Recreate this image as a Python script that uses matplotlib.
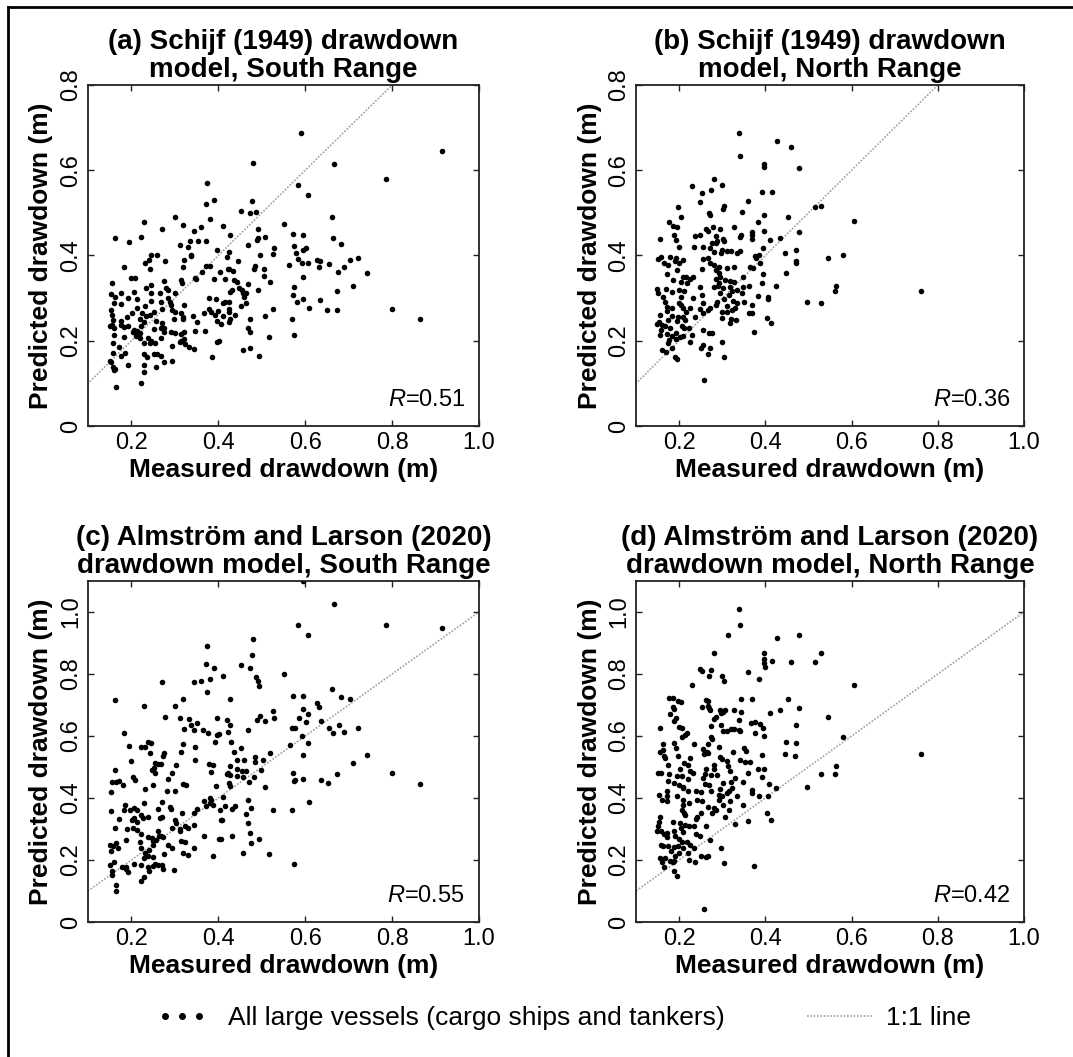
import numpy as np
import matplotlib
matplotlib.use('Agg')
import matplotlib.pyplot as plt
from matplotlib.lines import Line2D
from matplotlib.legend_handler import HandlerLine2D

plt.rcParams['font.family'] = ['Liberation Sans', 'DejaVu Sans']
plt.rcParams['mathtext.fontset'] = 'custom'
plt.rcParams['mathtext.it'] = 'Liberation Sans:italic'
plt.rcParams['mathtext.rm'] = 'Liberation Sans'

# (measured, predicted) pairs
schijf_south = [
    (0.59, 0.687), (0.914, 0.646), (0.48, 0.618), (0.667, 0.615), (0.785, 0.58), (0.584, 0.565),
    (0.373, 0.571), (0.607, 0.542), (0.39, 0.53), (0.371, 0.521), (0.477, 0.529), (0.452, 0.505),
    (0.472, 0.499), (0.486, 0.501), (0.301, 0.491), (0.662, 0.491), (0.38, 0.486), (0.229, 0.478),
    (0.551, 0.475), (0.319, 0.471), (0.36, 0.468), (0.411, 0.47), (0.271, 0.461), (0.345, 0.457),
    (0.492, 0.461), (0.426, 0.448), (0.573, 0.45), (0.596, 0.448), (0.161, 0.442), (0.223, 0.443),
    (0.492, 0.44), (0.507, 0.444), (0.665, 0.44), (0.195, 0.432), (0.334, 0.434), (0.371, 0.435),
    (0.354, 0.435), (0.49, 0.436), (0.683, 0.427), (0.312, 0.425), (0.331, 0.421), (0.468, 0.425),
    (0.574, 0.423), (0.529, 0.417), (0.398, 0.413), (0.425, 0.409), (0.596, 0.413), (0.579, 0.407),
    (0.584, 0.391), (0.602, 0.417), (0.526, 0.403), (0.244, 0.401), (0.258, 0.4), (0.338, 0.401),
    (0.497, 0.401), (0.24, 0.389), (0.336, 0.399), (0.231, 0.382), (0.277, 0.386), (0.322, 0.389),
    (0.42, 0.397), (0.445, 0.387), (0.592, 0.383), (0.606, 0.382), (0.627, 0.389), (0.634, 0.387),
    (0.704, 0.389), (0.722, 0.394), (0.182, 0.374), (0.371, 0.376), (0.381, 0.375), (0.319, 0.374),
    (0.242, 0.369), (0.423, 0.368), (0.485, 0.376), (0.483, 0.368), (0.505, 0.368), (0.563, 0.378),
    (0.631, 0.374), (0.654, 0.379), (0.69, 0.374), (0.676, 0.362), (0.742, 0.358), (0.363, 0.362),
    (0.403, 0.362), (0.425, 0.368), (0.433, 0.364), (0.389, 0.346), (0.347, 0.348), (0.348, 0.344),
    (0.2, 0.348), (0.208, 0.348), (0.274, 0.34), (0.315, 0.342), (0.316, 0.336), (0.416, 0.344),
    (0.436, 0.342), (0.443, 0.339), (0.504, 0.352), (0.518, 0.339), (0.596, 0.35), (0.155, 0.336),
    (0.245, 0.331), (0.468, 0.332), (0.574, 0.327), (0.709, 0.328), (0.234, 0.323), (0.279, 0.323),
    (0.285, 0.319), (0.431, 0.319), (0.447, 0.323), (0.454, 0.319), (0.492, 0.319), (0.673, 0.317),
    (0.175, 0.311), (0.153, 0.31), (0.207, 0.314), (0.244, 0.311), (0.265, 0.311), (0.301, 0.311),
    (0.427, 0.314), (0.457, 0.311), (0.463, 0.311), (0.573, 0.307), (0.192, 0.301), (0.163, 0.302),
    (0.212, 0.297), (0.283, 0.301), (0.379, 0.3), (0.394, 0.297), (0.458, 0.303), (0.246, 0.293),
    (0.267, 0.292), (0.288, 0.292), (0.415, 0.292), (0.425, 0.292), (0.596, 0.297), (0.58, 0.292),
    (0.634, 0.295), (0.29, 0.285), (0.322, 0.285), (0.41, 0.288), (0.463, 0.288), (0.16, 0.289),
    (0.176, 0.286), (0.232, 0.282), (0.452, 0.282), (0.212, 0.276), (0.271, 0.274), (0.379, 0.274),
    (0.424, 0.274), (0.609, 0.276), (0.8, 0.274), (0.674, 0.272), (0.526, 0.274), (0.154, 0.272),
    (0.253, 0.268), (0.3, 0.268), (0.294, 0.271), (0.201, 0.266), (0.224, 0.266), (0.384, 0.268),
    (0.4, 0.27), (0.425, 0.268), (0.651, 0.271), (0.367, 0.264), (0.315, 0.264), (0.233, 0.258),
    (0.319, 0.256), (0.342, 0.258), (0.392, 0.26), (0.411, 0.258), (0.439, 0.26), (0.156, 0.26),
    (0.189, 0.256), (0.243, 0.26), (0.507, 0.259), (0.298, 0.252), (0.319, 0.25), (0.351, 0.245),
    (0.398, 0.247), (0.424, 0.245), (0.427, 0.252), (0.474, 0.252), (0.57, 0.25), (0.865, 0.252),
    (0.176, 0.247), (0.22, 0.252), (0.257, 0.247), (0.271, 0.241), (0.407, 0.239), (0.175, 0.237),
    (0.15, 0.235), (0.193, 0.235), (0.184, 0.233), (0.221, 0.235), (0.228, 0.245), (0.16, 0.229),
    (0.207, 0.225), (0.204, 0.221), (0.213, 0.223), (0.219, 0.219), (0.253, 0.227), (0.268, 0.229),
    (0.276, 0.231), (0.276, 0.221), (0.291, 0.221), (0.3, 0.219), (0.315, 0.216), (0.322, 0.221),
    (0.347, 0.224), (0.37, 0.223), (0.468, 0.229), (0.474, 0.22), (0.575, 0.213), (0.517, 0.208),
    (0.16, 0.213), (0.184, 0.208), (0.211, 0.21), (0.22, 0.206), (0.237, 0.206), (0.246, 0.2),
    (0.267, 0.206), (0.401, 0.2), (0.397, 0.196), (0.315, 0.2), (0.311, 0.196), (0.322, 0.203),
    (0.323, 0.192), (0.157, 0.194), (0.171, 0.186), (0.228, 0.194), (0.243, 0.194), (0.255, 0.194),
    (0.293, 0.188), (0.333, 0.186), (0.345, 0.18), (0.473, 0.184), (0.456, 0.178), (0.157, 0.172),
    (0.186, 0.172), (0.23, 0.17), (0.253, 0.169), (0.259, 0.169), (0.175, 0.164), (0.236, 0.161),
    (0.269, 0.165), (0.386, 0.163), (0.494, 0.164), (0.15, 0.153), (0.293, 0.153), (0.192, 0.143),
    (0.154, 0.149), (0.256, 0.139), (0.274, 0.149), (0.158, 0.138), (0.161, 0.133), (0.228, 0.127),
    (0.229, 0.143), (0.165, 0.092), (0.221, 0.1), (0.159, 0.131), (0.155, 0.237), (0.158, 0.249),
]

schijf_north = [
    (0.34, 0.687), (0.428, 0.669), (0.46, 0.655), (0.342, 0.634), (0.396, 0.615), (0.396, 0.608),
    (0.478, 0.605), (0.28, 0.579), (0.231, 0.563), (0.299, 0.565), (0.252, 0.546), (0.274, 0.554),
    (0.393, 0.549), (0.416, 0.549), (0.36, 0.529), (0.248, 0.526), (0.304, 0.515), (0.302, 0.508),
    (0.516, 0.513), (0.53, 0.516), (0.198, 0.513), (0.345, 0.502), (0.271, 0.495), (0.269, 0.499),
    (0.398, 0.494), (0.205, 0.49), (0.452, 0.491), (0.606, 0.481), (0.177, 0.479), (0.384, 0.479),
    (0.185, 0.469), (0.195, 0.468), (0.279, 0.468), (0.296, 0.463), (0.328, 0.468), (0.262, 0.462),
    (0.267, 0.457), (0.368, 0.456), (0.396, 0.457), (0.478, 0.454), (0.189, 0.448), (0.249, 0.447),
    (0.238, 0.446), (0.285, 0.446), (0.343, 0.448), (0.342, 0.444), (0.37, 0.447), (0.434, 0.44),
    (0.156, 0.438), (0.193, 0.436), (0.41, 0.436), (0.305, 0.435), (0.288, 0.435), (0.302, 0.438),
    (0.369, 0.438), (0.286, 0.429), (0.276, 0.429), (0.234, 0.421), (0.2, 0.42), (0.255, 0.419),
    (0.271, 0.418), (0.299, 0.413), (0.311, 0.411), (0.321, 0.411), (0.334, 0.407), (0.342, 0.411),
    (0.394, 0.417), (0.471, 0.413), (0.446, 0.405), (0.281, 0.409), (0.298, 0.405), (0.152, 0.391),
    (0.159, 0.397), (0.179, 0.397), (0.193, 0.393), (0.19, 0.388), (0.21, 0.389), (0.377, 0.399),
    (0.385, 0.401), (0.546, 0.395), (0.58, 0.4), (0.165, 0.382), (0.174, 0.378), (0.199, 0.382),
    (0.256, 0.391), (0.268, 0.395), (0.272, 0.382), (0.282, 0.378), (0.292, 0.374), (0.312, 0.37),
    (0.328, 0.374), (0.365, 0.374), (0.371, 0.37), (0.378, 0.393), (0.387, 0.382), (0.471, 0.382),
    (0.472, 0.386), (0.196, 0.366), (0.253, 0.368), (0.285, 0.366), (0.293, 0.358), (0.171, 0.357),
    (0.394, 0.357), (0.449, 0.36), (0.208, 0.35), (0.216, 0.35), (0.225, 0.344), (0.233, 0.35),
    (0.307, 0.343), (0.317, 0.341), (0.349, 0.349), (0.296, 0.35), (0.286, 0.346), (0.186, 0.342),
    (0.204, 0.339), (0.218, 0.335), (0.292, 0.335), (0.327, 0.339), (0.393, 0.336), (0.28, 0.327),
    (0.29, 0.328), (0.302, 0.323), (0.317, 0.325), (0.349, 0.325), (0.361, 0.328), (0.424, 0.328),
    (0.563, 0.328), (0.762, 0.317), (0.149, 0.322), (0.169, 0.321), (0.2, 0.319), (0.211, 0.317),
    (0.248, 0.327), (0.322, 0.317), (0.335, 0.319), (0.345, 0.311), (0.562, 0.317), (0.15, 0.311),
    (0.184, 0.315), (0.254, 0.307), (0.294, 0.313), (0.315, 0.307), (0.384, 0.305), (0.406, 0.303),
    (0.406, 0.298), (0.163, 0.302), (0.205, 0.303), (0.232, 0.301), (0.305, 0.298), (0.496, 0.292),
    (0.529, 0.288), (0.167, 0.292), (0.199, 0.288), (0.205, 0.284), (0.256, 0.288), (0.286, 0.284),
    (0.288, 0.292), (0.311, 0.282), (0.326, 0.293), (0.334, 0.288), (0.35, 0.291), (0.369, 0.285),
    (0.171, 0.28), (0.184, 0.276), (0.21, 0.276), (0.226, 0.278), (0.249, 0.274), (0.266, 0.272),
    (0.272, 0.276), (0.322, 0.272), (0.329, 0.276), (0.173, 0.27), (0.216, 0.268), (0.255, 0.266),
    (0.299, 0.268), (0.31, 0.268), (0.361, 0.264), (0.369, 0.264), (0.156, 0.26), (0.184, 0.258),
    (0.197, 0.256), (0.21, 0.256), (0.238, 0.255), (0.299, 0.253), (0.321, 0.25), (0.331, 0.249),
    (0.404, 0.253), (0.153, 0.245), (0.175, 0.249), (0.195, 0.247), (0.214, 0.249), (0.319, 0.242),
    (0.412, 0.242), (0.148, 0.239), (0.16, 0.237), (0.167, 0.235), (0.207, 0.235), (0.211, 0.229),
    (0.222, 0.231), (0.179, 0.229), (0.158, 0.225), (0.192, 0.219), (0.255, 0.225), (0.27, 0.219),
    (0.276, 0.219), (0.374, 0.22), (0.172, 0.216), (0.184, 0.21), (0.201, 0.208), (0.21, 0.21),
    (0.229, 0.213), (0.156, 0.213), (0.176, 0.202), (0.192, 0.203), (0.3, 0.198), (0.225, 0.196),
    (0.175, 0.194), (0.255, 0.19), (0.251, 0.182), (0.184, 0.182), (0.16, 0.178), (0.17, 0.174),
    (0.266, 0.169), (0.272, 0.182), (0.305, 0.163), (0.19, 0.163), (0.194, 0.158), (0.258, 0.109),
]

almstrom_south = [
    (0.594, 1.099), (0.667, 1.025), (0.584, 0.959), (0.785, 0.958), (0.914, 0.947), (0.607, 0.927),
    (0.48, 0.912), (0.373, 0.89), (0.477, 0.861), (0.371, 0.831), (0.452, 0.829), (0.39, 0.82),
    (0.472, 0.82), (0.551, 0.801), (0.411, 0.794), (0.486, 0.79), (0.38, 0.783), (0.492, 0.779),
    (0.271, 0.773), (0.345, 0.774), (0.36, 0.778), (0.494, 0.762), (0.374, 0.743), (0.662, 0.751),
    (0.573, 0.73), (0.596, 0.73), (0.426, 0.719), (0.319, 0.719), (0.704, 0.719), (0.161, 0.715),
    (0.683, 0.725), (0.626, 0.708), (0.229, 0.697), (0.301, 0.698), (0.632, 0.693), (0.596, 0.686),
    (0.526, 0.682), (0.607, 0.67), (0.497, 0.665), (0.278, 0.661), (0.312, 0.659), (0.398, 0.659),
    (0.529, 0.657), (0.585, 0.657), (0.333, 0.654), (0.507, 0.65), (0.42, 0.652), (0.489, 0.652),
    (0.637, 0.65), (0.602, 0.646), (0.352, 0.643), (0.336, 0.636), (0.426, 0.634), (0.678, 0.634),
    (0.365, 0.62), (0.468, 0.62), (0.322, 0.622), (0.345, 0.618), (0.722, 0.625), (0.577, 0.627),
    (0.654, 0.625), (0.57, 0.627), (0.664, 0.609), (0.69, 0.614), (0.182, 0.609), (0.376, 0.611),
    (0.397, 0.604), (0.402, 0.607), (0.423, 0.612), (0.593, 0.601), (0.392, 0.582), (0.429, 0.582),
    (0.606, 0.579), (0.195, 0.568), (0.319, 0.574), (0.239, 0.582), (0.246, 0.577), (0.223, 0.564),
    (0.232, 0.566), (0.347, 0.563), (0.453, 0.561), (0.566, 0.571), (0.242, 0.545), (0.315, 0.547),
    (0.436, 0.548), (0.518, 0.545), (0.274, 0.545), (0.742, 0.539), (0.596, 0.539), (0.273, 0.534),
    (0.484, 0.532), (0.347, 0.523), (0.2, 0.518), (0.458, 0.523), (0.443, 0.521), (0.503, 0.523),
    (0.485, 0.516), (0.255, 0.512), (0.26, 0.51), (0.269, 0.51), (0.709, 0.512), (0.378, 0.51),
    (0.388, 0.507), (0.303, 0.507), (0.428, 0.502), (0.251, 0.496), (0.247, 0.491), (0.161, 0.491),
    (0.444, 0.493), (0.463, 0.487), (0.499, 0.489), (0.454, 0.486), (0.423, 0.482), (0.8, 0.482),
    (0.384, 0.483), (0.293, 0.48), (0.255, 0.48), (0.573, 0.48), (0.427, 0.475), (0.419, 0.478),
    (0.673, 0.477), (0.443, 0.472), (0.457, 0.469), (0.483, 0.469), (0.204, 0.467), (0.208, 0.459),
    (0.285, 0.461), (0.574, 0.455), (0.596, 0.462), (0.47, 0.453), (0.577, 0.459), (0.155, 0.453),
    (0.165, 0.451), (0.171, 0.455), (0.636, 0.457), (0.424, 0.448), (0.652, 0.448), (0.319, 0.445),
    (0.325, 0.443), (0.18, 0.443), (0.249, 0.443), (0.427, 0.439), (0.865, 0.446), (0.395, 0.439),
    (0.232, 0.428), (0.507, 0.434), (0.152, 0.418), (0.281, 0.421), (0.301, 0.421), (0.41, 0.402),
    (0.38, 0.4), (0.384, 0.394), (0.367, 0.389), (0.609, 0.388), (0.468, 0.394), (0.271, 0.387),
    (0.38, 0.383), (0.229, 0.383), (0.186, 0.378), (0.439, 0.375), (0.415, 0.375), (0.371, 0.373),
    (0.387, 0.378), (0.288, 0.37), (0.206, 0.367), (0.292, 0.364), (0.182, 0.36), (0.212, 0.36),
    (0.197, 0.36), (0.261, 0.364), (0.351, 0.364), (0.431, 0.364), (0.475, 0.367), (0.526, 0.36),
    (0.57, 0.362), (0.152, 0.357), (0.403, 0.362), (0.344, 0.353), (0.316, 0.351), (0.463, 0.349),
    (0.221, 0.346), (0.27, 0.34), (0.238, 0.34), (0.207, 0.335), (0.172, 0.333), (0.226, 0.335),
    (0.265, 0.335), (0.408, 0.328), (0.301, 0.328), (0.201, 0.33), (0.213, 0.324), (0.405, 0.328),
    (0.302, 0.319), (0.468, 0.319), (0.345, 0.314), (0.323, 0.31), (0.161, 0.303), (0.19, 0.301),
    (0.204, 0.303), (0.213, 0.297), (0.293, 0.303), (0.311, 0.3), (0.33, 0.303), (0.311, 0.292),
    (0.262, 0.295), (0.263, 0.278), (0.221, 0.284), (0.474, 0.287), (0.269, 0.276), (0.237, 0.273),
    (0.247, 0.272), (0.272, 0.273), (0.366, 0.276), (0.431, 0.276), (0.401, 0.269), (0.405, 0.269),
    (0.257, 0.265), (0.494, 0.267), (0.188, 0.265), (0.15, 0.249), (0.165, 0.255), (0.25, 0.26),
    (0.219, 0.257), (0.314, 0.26), (0.323, 0.257), (0.475, 0.255), (0.284, 0.249), (0.157, 0.244),
    (0.169, 0.238), (0.223, 0.238), (0.24, 0.233), (0.293, 0.238), (0.345, 0.238), (0.249, 0.249),
    (0.153, 0.228), (0.231, 0.222), (0.276, 0.22), (0.319, 0.224), (0.456, 0.222), (0.516, 0.219),
    (0.238, 0.212), (0.33, 0.215), (0.387, 0.214), (0.229, 0.206), (0.249, 0.209), (0.16, 0.195),
    (0.207, 0.187), (0.222, 0.185), (0.254, 0.187), (0.261, 0.185), (0.27, 0.185), (0.574, 0.187),
    (0.15, 0.185), (0.187, 0.179), (0.179, 0.179), (0.238, 0.179), (0.25, 0.182), (0.188, 0.171),
    (0.272, 0.171), (0.297, 0.169), (0.156, 0.163), (0.191, 0.16), (0.24, 0.165), (0.156, 0.153),
    (0.229, 0.145), (0.223, 0.131), (0.165, 0.12), (0.165, 0.099),
]

almstrom_north = [
    (0.34, 1.009), (0.342, 0.959), (0.313, 0.927), (0.428, 0.915), (0.478, 0.927), (0.28, 0.867),
    (0.396, 0.869), (0.529, 0.868), (0.396, 0.847), (0.416, 0.843), (0.46, 0.839), (0.516, 0.839),
    (0.398, 0.837), (0.4, 0.822), (0.248, 0.815), (0.274, 0.814), (0.252, 0.81), (0.36, 0.807),
    (0.299, 0.795), (0.27, 0.792), (0.385, 0.785), (0.304, 0.779), (0.606, 0.765), (0.231, 0.764),
    (0.177, 0.722), (0.185, 0.722), (0.343, 0.718), (0.37, 0.718), (0.452, 0.718), (0.262, 0.716),
    (0.268, 0.713), (0.198, 0.713), (0.205, 0.71), (0.267, 0.698), (0.253, 0.692), (0.478, 0.69),
    (0.185, 0.693), (0.189, 0.687), (0.269, 0.69), (0.271, 0.683), (0.434, 0.685), (0.295, 0.683),
    (0.306, 0.685), (0.302, 0.678), (0.327, 0.683), (0.344, 0.678), (0.298, 0.674), (0.41, 0.674),
    (0.179, 0.672), (0.193, 0.657), (0.285, 0.661), (0.546, 0.661), (0.28, 0.654), (0.339, 0.652),
    (0.188, 0.65), (0.366, 0.641), (0.377, 0.644), (0.275, 0.633), (0.298, 0.636), (0.387, 0.639),
    (0.471, 0.636), (0.156, 0.627), (0.199, 0.628), (0.207, 0.625), (0.394, 0.625), (0.301, 0.617),
    (0.31, 0.615), (0.32, 0.622), (0.338, 0.62), (0.342, 0.615), (0.328, 0.622), (0.377, 0.609),
    (0.396, 0.601), (0.218, 0.609), (0.207, 0.598), (0.214, 0.604), (0.274, 0.598), (0.277, 0.591),
    (0.58, 0.598), (0.189, 0.579), (0.235, 0.575), (0.449, 0.582), (0.472, 0.579), (0.163, 0.575),
    (0.267, 0.574), (0.156, 0.55), (0.162, 0.555), (0.193, 0.561), (0.255, 0.559), (0.265, 0.55),
    (0.292, 0.563), (0.351, 0.561), (0.354, 0.552), (0.325, 0.547), (0.258, 0.542), (0.268, 0.545),
    (0.393, 0.539), (0.446, 0.541), (0.469, 0.536), (0.762, 0.543), (0.166, 0.534), (0.168, 0.528),
    (0.198, 0.534), (0.226, 0.528), (0.295, 0.532), (0.3, 0.525), (0.311, 0.52), (0.341, 0.521),
    (0.353, 0.516), (0.364, 0.517), (0.211, 0.512), (0.22, 0.507), (0.28, 0.507), (0.174, 0.507),
    (0.313, 0.502), (0.563, 0.502), (0.282, 0.495), (0.201, 0.494), (0.262, 0.493), (0.319, 0.488),
    (0.384, 0.493), (0.396, 0.493), (0.152, 0.482), (0.159, 0.48), (0.177, 0.478), (0.225, 0.486),
    (0.232, 0.48), (0.259, 0.477), (0.36, 0.482), (0.529, 0.478), (0.562, 0.477), (0.196, 0.472),
    (0.207, 0.472), (0.273, 0.473), (0.289, 0.475), (0.392, 0.467), (0.255, 0.464), (0.329, 0.464),
    (0.221, 0.461), (0.174, 0.456), (0.187, 0.45), (0.321, 0.453), (0.348, 0.451), (0.408, 0.446),
    (0.269, 0.442), (0.301, 0.448), (0.2, 0.442), (0.261, 0.446), (0.21, 0.437), (0.496, 0.436),
    (0.424, 0.432), (0.323, 0.432), (0.21, 0.432), (0.296, 0.429), (0.221, 0.424), (0.315, 0.424),
    (0.37, 0.426), (0.24, 0.421), (0.251, 0.419), (0.273, 0.421), (0.172, 0.424), (0.31, 0.416),
    (0.369, 0.416), (0.153, 0.41), (0.172, 0.407), (0.195, 0.407), (0.292, 0.41), (0.3, 0.407),
    (0.334, 0.405), (0.385, 0.407), (0.406, 0.408), (0.161, 0.394), (0.173, 0.389), (0.21, 0.392),
    (0.241, 0.392), (0.252, 0.389), (0.292, 0.392), (0.319, 0.389), (0.21, 0.378), (0.223, 0.383),
    (0.301, 0.378), (0.349, 0.378), (0.267, 0.371), (0.281, 0.367), (0.207, 0.36), (0.212, 0.353),
    (0.285, 0.36), (0.315, 0.362), (0.277, 0.353), (0.214, 0.346), (0.251, 0.351), (0.405, 0.351),
    (0.156, 0.338), (0.242, 0.338), (0.306, 0.338), (0.24, 0.332), (0.412, 0.328), (0.36, 0.327),
    (0.154, 0.321), (0.186, 0.324), (0.202, 0.319), (0.213, 0.314), (0.224, 0.31), (0.234, 0.31),
    (0.263, 0.31), (0.329, 0.317), (0.152, 0.31), (0.205, 0.303), (0.149, 0.292), (0.158, 0.295),
    (0.172, 0.287), (0.188, 0.292), (0.21, 0.289), (0.24, 0.284), (0.248, 0.276), (0.165, 0.284),
    (0.173, 0.274), (0.19, 0.276), (0.2, 0.267), (0.272, 0.265), (0.207, 0.257), (0.219, 0.257),
    (0.226, 0.249), (0.159, 0.249), (0.162, 0.244), (0.174, 0.246), (0.187, 0.241), (0.198, 0.244),
    (0.21, 0.238), (0.234, 0.238), (0.298, 0.238), (0.181, 0.228), (0.2, 0.224), (0.221, 0.224),
    (0.19, 0.214), (0.251, 0.212), (0.262, 0.21), (0.267, 0.212), (0.168, 0.206), (0.156, 0.206),
    (0.224, 0.201), (0.236, 0.195), (0.178, 0.198), (0.161, 0.192), (0.185, 0.192), (0.189, 0.196),
    (0.305, 0.19), (0.373, 0.182), (0.165, 0.179), (0.189, 0.165), (0.194, 0.149), (0.257, 0.043),
]

titles = ['(a) Schijf (1949) drawdown\nmodel, South Range',
          '(b) Schijf (1949) drawdown\nmodel, North Range',
          '(c) Almstr\u00f6m and Larson (2020)\ndrawdown model, South Range',
          '(d) Almstr\u00f6m and Larson (2020)\ndrawdown model, North Range']
r_values = ['0.51', '0.36', '0.55', '0.42']
datasets = [schijf_south, schijf_north, almstrom_south, almstrom_north]
y_max = [0.8, 0.8, 1.1, 1.1]
x_ticks = [0.2, 0.4, 0.6, 0.8, 1.0]
x_ticklabels = ['0.2', '0.4', '0.6', '0.8', '1.0']

W, H = 1073, 1057
fig = plt.figure(figsize=(W / 100, H / 100), dpi=100)

# axes boxes in pixels: left, top, right, bottom
boxes = [(88, 85, 479, 426), (636, 85, 1024, 426),
         (88, 581, 479, 922), (636, 581, 1024, 922)]

for i in range(4):
    l, t, r, b = boxes[i]
    ax = fig.add_axes([l / W, 1 - b / H, (r - l) / W, (b - t) / H])
    pts = np.array(datasets[i])
    ax.plot([0, 1.2], [0, 1.2], ls=(0, (1, 1)), color='#a0a0a0', lw=1.2, zorder=1)
    ax.scatter(pts[:, 0], pts[:, 1], s=16, color='black', lw=0, zorder=2)
    ax.set_xlim(0.1, 1.0)
    ax.set_ylim(0, y_max[i])
    ax.set_xticks(x_ticks)
    ax.set_xticklabels(x_ticklabels)
    if y_max[i] < 1:
        yt = [0, 0.2, 0.4, 0.6, 0.8]
        ytl = ['0', '0.2', '0.4', '0.6', '0.8']
    else:
        yt = [0, 0.2, 0.4, 0.6, 0.8, 1.0]
        ytl = ['0', '0.2', '0.4', '0.6', '0.8', '1.0']
    ax.set_yticks(yt)
    ax.set_yticklabels(ytl, rotation=90, va='center')
    ax.tick_params(direction='in', top=True, right=True, length=4, width=1,
                   labelsize=17, pad=4, color='#222222')
    for sp in ax.spines.values():
        sp.set_linewidth(1.3)
        sp.set_color('#222222')
    ax.set_title(titles[i], fontsize=20, fontweight='bold', linespacing=1.1, pad=6)
    ax.set_xlabel('Measured drawdown (m)', fontsize=19, fontweight='bold', labelpad=3)
    ax.set_ylabel('Predicted drawdown (m)', fontsize=19, fontweight='bold', labelpad=5)
    ax.text(0.965, 0.045, r'$\mathit{R}$=' + r_values[i], transform=ax.transAxes,
            ha='right', va='bottom', fontsize=17)

# frame around the figure (only left and top edges fall inside the image)
fig.add_artist(Line2D([8 / W, 8 / W], [0, 1 - 7 / H], color='black', lw=2, transform=fig.transFigure))
fig.add_artist(Line2D([8 / W, 1], [1 - 7 / H, 1 - 7 / H], color='black', lw=2, transform=fig.transFigure))

dots = Line2D([], [], ls='none', marker='o', ms=4.0, color='black')
line11 = Line2D([], [], ls=(0, (1, 1)), color='#a0a0a0', lw=1.2)
fig.legend([dots, line11], ['All large vessels (cargo ships and tankers)', '1:1 line'],
           loc='center', bbox_to_anchor=(560 / W, 1 - 1018 / H), ncol=2, frameon=False,
           fontsize=19, handlelength=2.5, handletextpad=0.5, columnspacing=3.1,
           handler_map={dots: HandlerLine2D(numpoints=3, marker_pad=0.6)})

fig.savefig('out.png', dpi=100)
